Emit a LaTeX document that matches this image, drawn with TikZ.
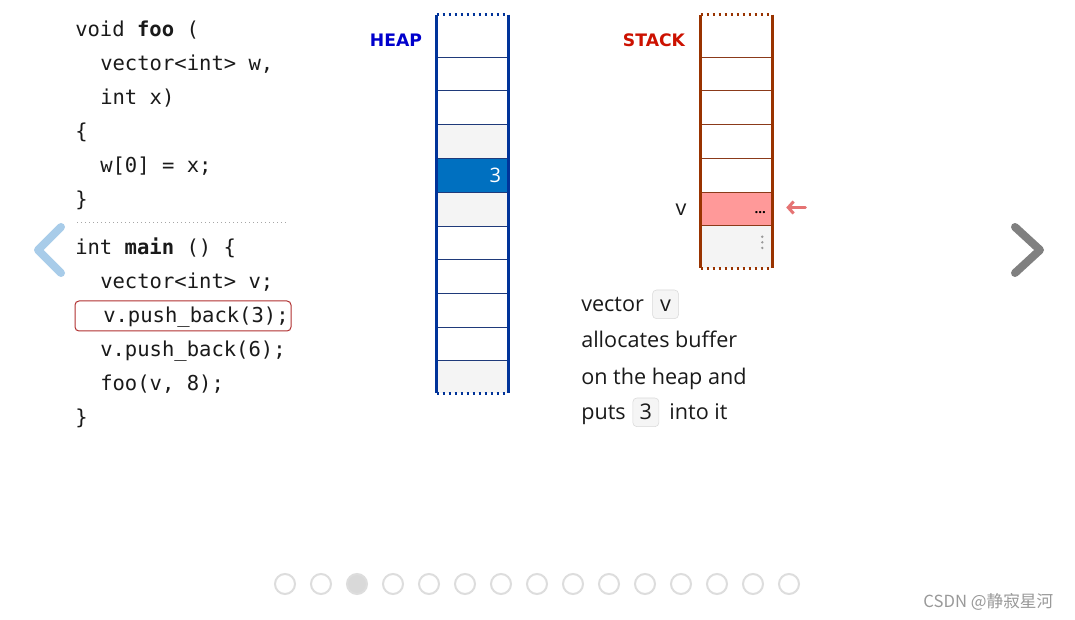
\documentclass[tikz,border=0pt]{standalone}
\usepackage{fontspec}
\setmainfont{Open Sans}
\setmonofont{DejaVu Sans Mono}
\newfontfamily\lblfont{DejaVu Sans}
\newfontfamily\cjk{Noto Sans CJK SC}
\usetikzlibrary{arrows.meta,positioning,fit,calc}
\definecolor{heapedge}{HTML}{003399}
\definecolor{heapline}{HTML}{1F3A7A}
\definecolor{heapfill}{HTML}{0070C0}
\definecolor{heaptext}{HTML}{0000CC}
\definecolor{stackedge}{HTML}{993300}
\definecolor{stackline}{HTML}{8B3A1A}
\definecolor{stacktext}{HTML}{CC1100}
\definecolor{vfill}{HTML}{FF9999}
\definecolor{ptrcol}{HTML}{E57373}
\definecolor{cellgray}{HTML}{F4F4F4}
\definecolor{navblue}{HTML}{A8CCE9}
\definecolor{navgray}{HTML}{808080}
\definecolor{dotgray}{HTML}{DDDDDD}
\definecolor{dotfill}{HTML}{D9D9D9}
\definecolor{curred}{HTML}{B03030}
\definecolor{txt}{HTML}{1A1A1A}
\tikzset{
  code/.style={anchor=base west, inner sep=0pt, font=\ttfamily\fontsize{15.4}{18}\selectfont, text=txt},
  desc/.style={anchor=base west, inner sep=0pt, font=\fontsize{16.2}{19}\selectfont, text=txt},
  kbd/.style={anchor=base west, draw=black!15, fill=black!4, rounded corners=3pt, inner xsep=0pt, inner ysep=0pt, minimum width=19.5pt, text height=16.5pt, text depth=5pt, font=\fontsize{16.2}{19}\selectfont, text=txt},
  cellbox/.style={inner sep=0pt},
  heapwall/.style={heapedge, line width=2.25pt},
  stackwall/.style={stackedge, line width=2.25pt},
  cut/.style={dash pattern=on 2pt off 2.5pt},
  area/.style={font=\lblfont\bfseries\fontsize{12.9}{15}\selectfont},
  nav/.style={line width=6pt, line cap=round, line join=round},
  pagedot/.style={circle, draw=dotgray, line width=1.5pt, minimum size=15pt, inner sep=0pt},
  ptr/.style={-{Straight Barb[length=4pt,width=9pt]}, line width=2.25pt, ptrcol, line cap=round},
  curline/.style={draw=curred, rounded corners=3pt, inner sep=0pt, line width=0.75pt},
  sep/.style={black!35, line width=0.75pt, dash pattern=on 0.75pt off 2.25pt},
}

\begin{document}
\begin{tikzpicture}[x=0.75pt, y=-0.75pt]
\useasboundingbox[fill=white] (0,0) rectangle (1075,620);

% code
\foreach \i/\x/\y/\t in {1/75/37/{void \textbf{foo} (}, 2/100/71/{vector<int> w,}, 3/100/105/{int x)}, 4/75/139/{\{}, 5/100/173/{w[0] = x;}, 6/75/207/{\}}}{\node[code] (f\i) at (\x,\y) {\t};}
\coordinate (sepL) at (77,223);
\coordinate (sepR) at (288,223);
\draw[sep] (sepL) -- (sepR);
\foreach \i/\x/\y/\t in {1/75/255/{int \textbf{main} () \{}, 2/100/289/{vector<int> v;}, 3/103/323/{v.push\_back(3);}, 4/100/357/{v.push\_back(6);}, 5/100/391/{foo(v, 8);}, 6/75/424/{\}}}{\node[code] (m\i) at (\x,\y) {\t};}
\node[curline, fit={(75,301) (291,331)}] (cur) {};

% heap
\node[area, text=heaptext] (heaplbl) at (396,40) {HEAP};
\foreach \i/\a/\b/\c in {1/15/57/white, 2/57/90/white, 3/90/124/white, 4/124/158/cellgray, 5/158/192/heapfill, 6/192/226/cellgray, 7/226/259/white, 8/259/293/white, 9/293/327/white, 10/327/360/white, 11/360/393/cellgray}{\node[cellbox, fill=\c, fit={(437,\a) (508,\b)}] (h\i) {};}
\foreach \i in {1,...,10}{\draw[heapline, line width=0.75pt] (h\i.south west) -- (h\i.south east);}
\node[font=\fontsize{15}{18}\selectfont, text=white] (hval) at ([xshift=-9.75pt]h5.east) {3};
\draw[heapwall] (h1.north west) -- (h11.south west);
\draw[heapwall] (h1.north east) -- (h11.south east);
\draw[heapwall, cut] (h1.north west) -- (h1.north east);
\draw[heapwall, cut] (h11.south west) -- (h11.south east);

% stack
\node[area, text=stacktext] (stacklbl) at (654,40) {STACK};
\foreach \i/\a/\b/\c in {1/15/57/white, 2/57/90/white, 3/90/124/white, 4/124/158/white, 5/158/192/white, 6/192/225/vfill, 7/225/268/cellgray}{\node[cellbox, fill=\c, fit={(701,\a) (772,\b)}] (s\i) {};}
\foreach \i in {1,...,6}{\draw[stackline, line width=0.75pt] (s\i.south west) -- (s\i.south east);}
\node[font=\bfseries\fontsize{10}{12}\selectfont, text=black] (sval) at ([xshift=-9pt,yshift=-3pt]s6.east) {...};
\foreach \k in {0,1,2}{\fill[black!40] ([xshift=-7.5pt,yshift=-9pt-4.2pt*\k]s7.north east) circle (1pt);}
\draw[stackwall] (s1.north west) -- (s7.south west);
\draw[stackwall] (s1.north east) -- (s7.south east);
\draw[stackwall, cut] (s1.north west) -- (s1.north east);
\draw[stackwall, cut] (s7.south west) -- (s7.south east);
\node[desc, anchor=base] (vlbl) at (681,216) {v};
\coordinate (ptrtail) at ($(s6.east)+(33,-1)$);
\coordinate (ptrhead) at ($(s6.east)+(14,-1)$);
\draw[ptr] (ptrtail) -- (ptrhead);

% explanation
\node[desc] (d1) at (581,312) {vector};
\node[kbd] (k1) at ([xshift=6pt]d1.base east) {v};
\node[desc] (d2) at (581,348) {allocates buffer};
\node[desc] (d3) at (581,385) {on the heap and};
\node[desc] (d4) at (581,420) {puts};
\node[kbd] (k2) at ([xshift=5pt]d4.base east) {3};
\node[desc] (d5) at ([xshift=7.5pt]k2.base east) {into it};

% navigation
\draw[nav, navblue] (61,227) -- (38,250) -- (61,273);
\draw[nav, navgray] (1015,227) -- (1040,250) -- (1015,273);
\foreach \i in {1,...,15}{
  \ifnum\i=3 \def\pf{dotfill}\else\def\pf{white}\fi
  \node[pagedot, fill=\pf] (pg\i) at ({285+36*(\i-1)},584) {};
}
\node[font=\cjk\fontsize{12.5}{14}\selectfont, text=black!40, anchor=east] (mark) at (1058,602) {CSDN @静寂星河};
\end{tikzpicture}
\end{document}
